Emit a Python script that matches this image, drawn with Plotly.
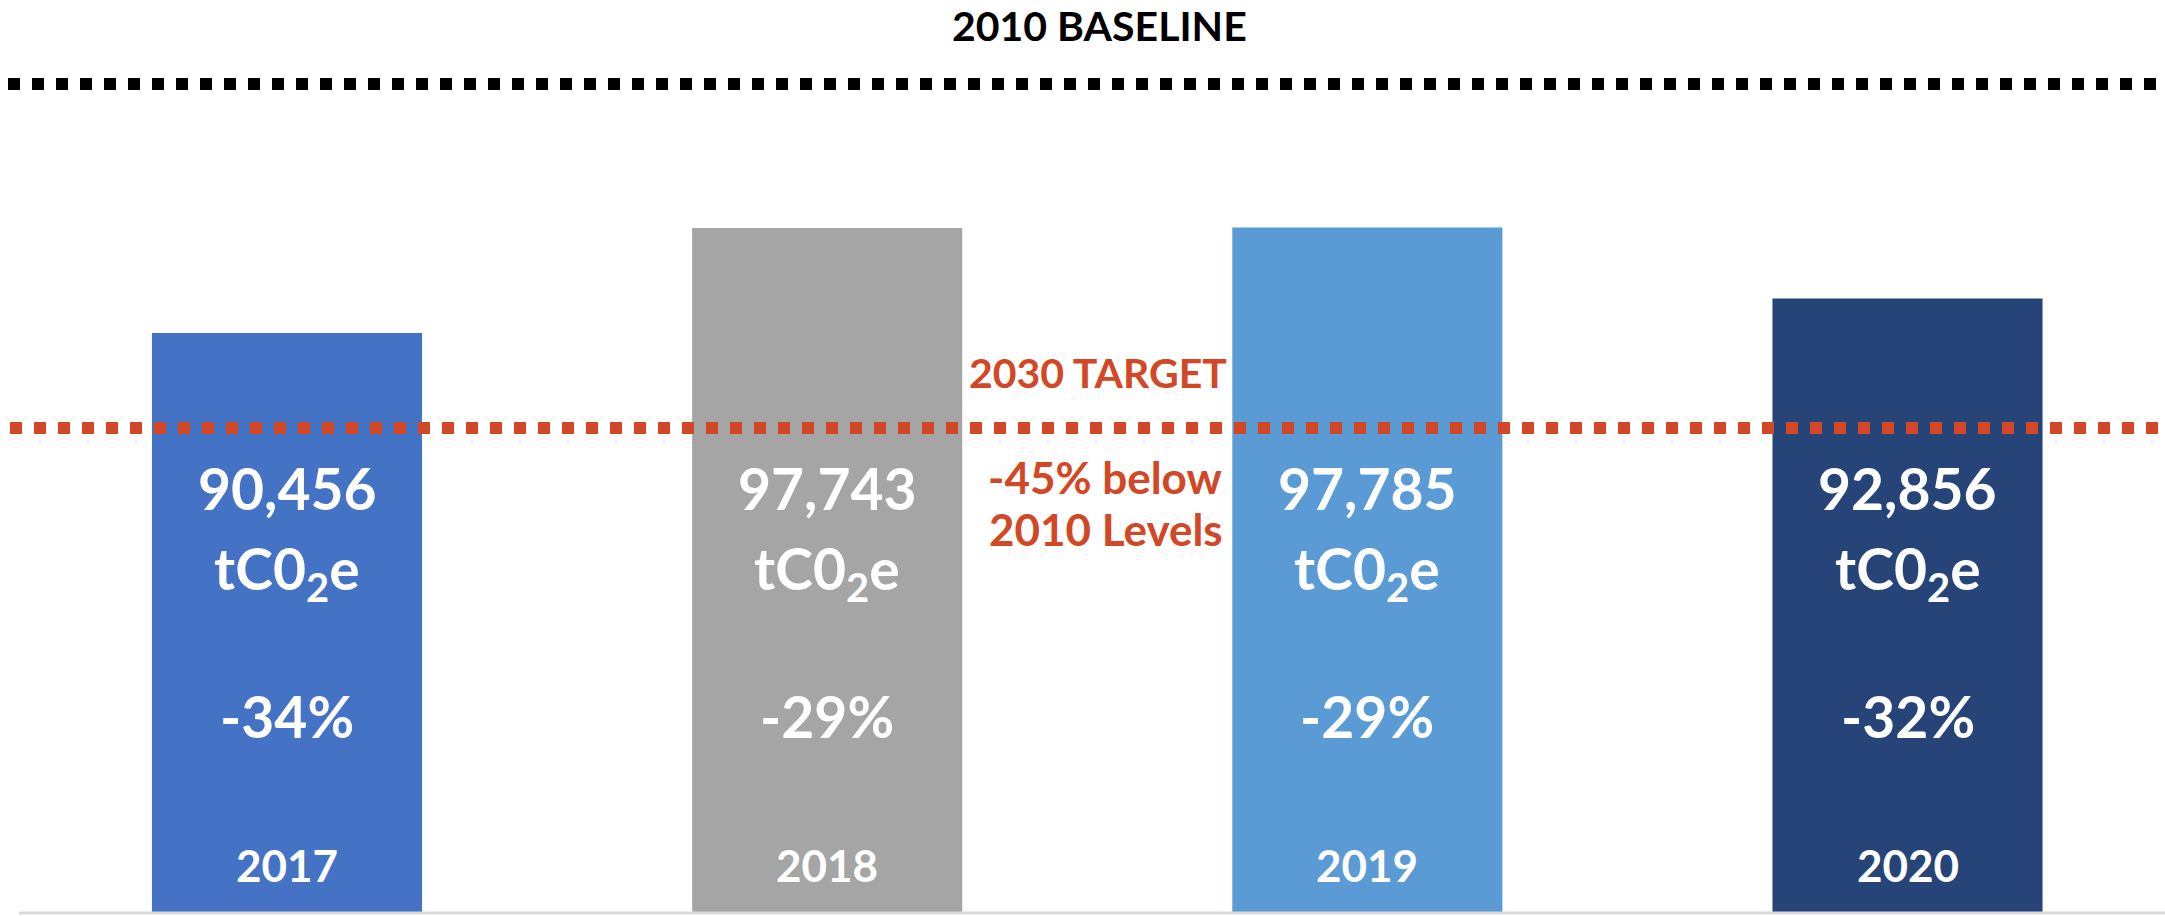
import plotly.graph_objects as go

# ---- data ----
years = ["2017", "2018", "2019", "2020"]
emissions = [90456, 97743, 97785, 92856]
pct_vs_2010 = ["-34%", "-29%", "-29%", "-32%"]
bar_colors = ["#4472C4", "#A5A5A5", "#5B9BD5", "#264478"]
baseline_label = "2010 BASELINE"
target_label = "2030 TARGET"
target_note = ["-45% below", "2010 Levels"]

W, H = 2165, 916
MB = 3
PH = H - MB  # plot height in px


def py(pix):
    """page pixel row (from top) -> paper y"""
    return (PH - pix) / PH


def px(pix):
    """page pixel column -> paper x"""
    return pix / W


RED = "#D24726"
FONT = "Lato"

fig = go.Figure()
fig.add_trace(go.Bar(
    x=years, y=emissions, width=0.5,
    marker=dict(color=bar_colors, line=dict(width=0)),
    hoverinfo="skip",
))

ann = []
for i, (yr, v, p) in enumerate(zip(years, emissions, pct_vs_2010)):
    ann.append(dict(x=i, xref="x", y=py(488), yref="paper", text=f"{v:,}",
                    showarrow=False, yanchor="middle", xanchor="center",
                    font=dict(family=FONT, size=57, color="white", weight=700)))
    ann.append(dict(x=i, xref="x", y=py(572), yref="paper", text="tC0<sub>2</sub>e",
                    showarrow=False, yanchor="middle", xanchor="center",
                    font=dict(family=FONT, size=57, color="white", weight=700)))
    ann.append(dict(x=i, xref="x", y=py(716), yref="paper", text=p,
                    showarrow=False, yanchor="middle", xanchor="center",
                    font=dict(family=FONT, size=57, color="white", weight=700)))
    ann.append(dict(x=i, xref="x", y=py(865), yref="paper", text=yr,
                    showarrow=False, yanchor="middle", xanchor="center",
                    font=dict(family=FONT, size=44, color="white", weight=700)))

ann.append(dict(x=px(1099), xref="paper", y=py(26), yref="paper", text=baseline_label,
                showarrow=False, yanchor="middle", xanchor="center",
                font=dict(family=FONT, size=41, color="black", weight=700)))
ann.append(dict(x=px(1097.5), xref="paper", y=py(372.5), yref="paper", text=target_label,
                showarrow=False, yanchor="middle", xanchor="center",
                font=dict(family=FONT, size=41, color=RED, weight=700)))
ann.append(dict(x=px(1105), xref="paper", y=py(477), yref="paper", text=target_note[0],
                showarrow=False, yanchor="middle", xanchor="center",
                font=dict(family=FONT, size=44, color=RED, weight=700)))
ann.append(dict(x=px(1106), xref="paper", y=py(529), yref="paper", text=target_note[1],
                showarrow=False, yanchor="middle", xanchor="center",
                font=dict(family=FONT, size=44, color=RED, weight=700)))

shapes = [
    # 2010 baseline dotted line
    dict(type="line", xref="paper", yref="paper", x0=px(8), x1=px(2157), y0=py(84), y1=py(84),
         line=dict(color="black", width=12, dash="12px,12px"), layer="above"),
    # 2030 target dotted line
    dict(type="line", xref="paper", yref="paper", x0=px(10), x1=1.0, y0=py(428), y1=py(428),
         line=dict(color=RED, width=12, dash="12px,12px"), layer="above"),
    # category axis baseline
    dict(type="line", xref="paper", yref="paper", x0=px(19), x1=1.0, y0=0, y1=0,
         line=dict(color="#D9D9D9", width=3), layer="above"),
]

unit = 540.17
a = -287 / unit
b = a + W / unit

fig.update_layout(
    width=W, height=H,
    margin=dict(l=0, r=0, t=0, b=MB, pad=0),
    paper_bgcolor="white", plot_bgcolor="white",
    showlegend=False,
    xaxis=dict(type="category", range=[a, b], visible=False, fixedrange=True),
    yaxis=dict(range=[50204, 50204 + 913 / 0.014409], visible=False, fixedrange=True),
    annotations=ann,
    shapes=shapes,
    hovermode=False,
)

fig.write_html(
    "out.html",
    config={"displayModeBar": False},
    post_script="document.body.style.margin='0';document.body.style.overflow='hidden';",
)
